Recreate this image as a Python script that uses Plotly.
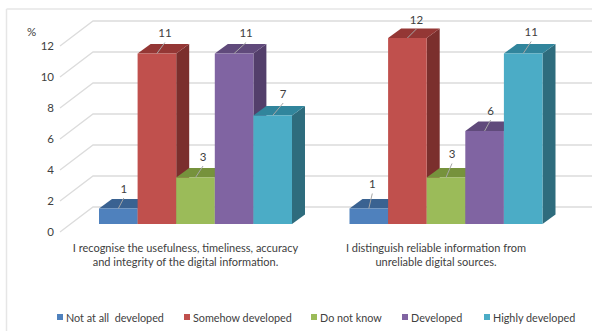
import plotly.graph_objects as go

# ---- data ----
categories = [
    "I recognise the usefulness, timeliness, accuracy<br>and integrity of the digital information.",
    "I distinguish reliable information from<br>unreliable digital sources.",
]
series_names = ["Not at all  developed", "Somehow developed", "Do not know", "Developed", "Highly developed"]
not_at_all = [1, 1]
somehow = [11, 12]
do_not_know = [3, 3]
developed = [11, 6]
highly = [7, 11]
y_ticks = [0, 2, 4, 6, 8, 10, 12]

# ---- style ----
W, H = 592, 331
PX_PER_CAT = 250.5
PX_PER_UNIT = 15.5
X0_PX = 185.5          # pixel of category 0 label centre
BASE_PX = 224          # pixel of value 0 on front plane
LABEL_BASE_PX = 232    # pixel of value 0 on wall front edge (tick labels)
FONT = "Lato"
TXT = "#404040"
GRID = "#dcdcdc"
front = ["#4F81BD", "#C0504D", "#9BBB59", "#8064A2", "#4BACC6"]
top = ["#3A6291", "#943735", "#76923C", "#604A7B", "#31859C"]
side = ["#2F5078", "#7B2F2D", "#617A31", "#533F6B", "#2E6C7D"]
label_off = [
    [(5.5, -18.5), (8, -19), (7.5, -19.5), (12, -19), (10.5, -20.5)],
    [(3.5, -23), (9, -17), (6, -22), (6, -19), (8, -20)],
]

dx = lambda p: p / PX_PER_CAT
dy = lambda p: -p / PX_PER_UNIT
BAR_W = dx(38.6)
SHIFT = dx(10)
DEPTH_X, DEPTH_Y = dx(13), dy(-9.5)
WALL_DX, WALL_DY = dx(33), dy(-25)

series = [not_at_all, somehow, do_not_know, developed, highly]
fig = go.Figure()

x_range = [-X0_PX / PX_PER_CAT, (W - X0_PX) / PX_PER_CAT]
y2_range = [-(H - BASE_PX) / PX_PER_UNIT, BASE_PX / PX_PER_UNIT]
y1_range = [-(H - LABEL_BASE_PX) / PX_PER_UNIT, LABEL_BASE_PX / PX_PER_UNIT]

# walls: on the labelled axis
wall_x0 = dx(60 - X0_PX)
for v in y_ticks:
    fig.add_trace(go.Scatter(
        x=[wall_x0, wall_x0 + WALL_DX, x_range[1]],
        y=[v, v + WALL_DY, v + WALL_DY],
        mode="lines", line=dict(color=GRID, width=1.3),
        hoverinfo="skip", showlegend=False, yaxis="y"))

def poly(xs, ys, color, name):
    fig.add_trace(go.Scatter(x=xs + xs[:1], y=ys + ys[:1], mode="lines", fill="toself",
                             fillcolor=color, line=dict(width=0, color=color),
                             name=name, showlegend=False, hoverinfo="skip", yaxis="y2"))

for g in range(len(categories)):
    for s, vals in enumerate(series):
        v = vals[g]
        xl = g + SHIFT + (s - 2.5) * BAR_W
        xr = xl + BAR_W
        poly([xr, xr + DEPTH_X, xr + DEPTH_X, xr], [0, DEPTH_Y, v + DEPTH_Y, v], side[s], series_names[s])
        poly([xl, xr, xr + DEPTH_X, xl + DEPTH_X], [v, v, v + DEPTH_Y, v + DEPTH_Y], top[s], series_names[s])
        poly([xl, xr, xr, xl], [0, 0, v, v], front[s], series_names[s])

# leaders and value labels on top of everything
for g in range(len(categories)):
    for s, vals in enumerate(series):
        v = vals[g]
        xc = g + SHIFT + (s - 2) * BAR_W
        ox, oy = label_off[g][s]
        fig.add_trace(go.Scatter(
            x=[xc, xc + dx(ox)], y=[v, v + dy(oy + 8)],
            mode="lines", line=dict(color="#a6a6a6", width=1),
            hoverinfo="skip", showlegend=False, yaxis="y2"))
        fig.add_trace(go.Scatter(
            x=[xc + dx(ox)], y=[v + dy(oy)], mode="text", text=[str(v)],
            textposition="middle center", textfont=dict(family=FONT, size=11.5, color=TXT),
            hoverinfo="skip", showlegend=False, yaxis="y2"))

# frame
shapes = [
    dict(type="line", xref="paper", yref="paper", x0=6.5 / W, x1=6.5 / W, y0=0, y1=1 - 9 / H,
         line=dict(color="#e6e6e6", width=1.5)),
    dict(type="line", xref="paper", yref="paper", x0=6.5 / W, x1=1, y0=1 - 9 / H, y1=1 - 9 / H,
         line=dict(color="#e6e6e6", width=1.5)),
]
# legend (hand-placed to match the reference's tight swatch spacing)
annotations = [dict(text="%", xref="paper", yref="paper", x=31 / W, y=1 - 31 / H, showarrow=False,
                    xanchor="center", yanchor="middle", font=dict(family=FONT, size=11.5, color=TXT))]
legend_px = [57, 184, 311, 402, 484]
for name, c, px in zip(series_names, front, legend_px):
    shapes.append(dict(type="rect", xref="paper", yref="paper", x0=px / W, x1=(px + 6) / W,
                       y0=1 - 320 / H, y1=1 - 314 / H, fillcolor=c, line=dict(width=0)))
    annotations.append(dict(text=name.replace("  ", "&nbsp; "), xref="paper", yref="paper", x=(px + 7) / W, y=1 - 317 / H,
                            showarrow=False, xanchor="left", yanchor="middle",
                            font=dict(family=FONT, size=10.8, color=TXT)))

fig.update_layout(
    width=W, height=H, margin=dict(l=0, r=0, t=0, b=0),
    paper_bgcolor="white", plot_bgcolor="white", showlegend=False,
    shapes=shapes, annotations=annotations,
    xaxis=dict(range=x_range, tickvals=[0, 1], ticktext=categories, showgrid=False, zeroline=False,
               showline=False, ticks="", anchor="free", position=1 - 240 / H, ticklabelposition="outside",
               tickfont=dict(family=FONT, size=11, color=TXT), automargin=False),
    yaxis=dict(range=y1_range, tickvals=y_ticks, showgrid=False, zeroline=False, showline=False,
               ticks="", anchor="free", position=54 / W, side="left",
               tickfont=dict(family=FONT, size=11.5, color=TXT), automargin=False),
    yaxis2=dict(range=y2_range, overlaying="y", visible=False, showgrid=False, zeroline=False),
)
fig.write_html("out.html", config=dict(displayModeBar=False),
               post_script="document.documentElement.style.overflow='hidden';document.body.style.margin='0';")
